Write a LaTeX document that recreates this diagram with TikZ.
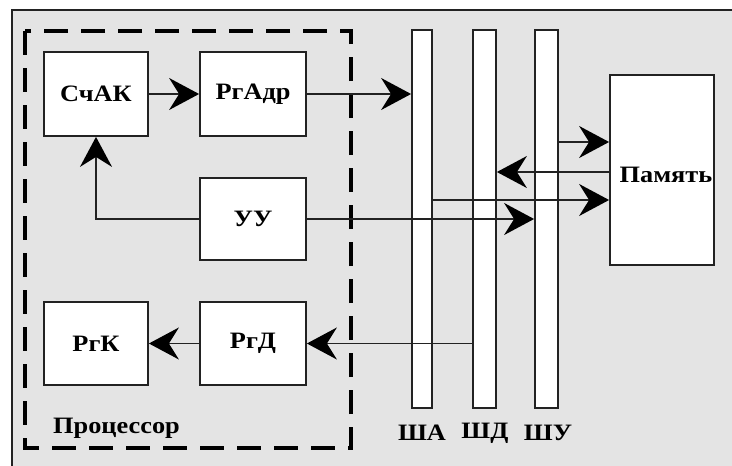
\documentclass[tikz,border=0pt]{standalone}
\usepackage{fontspec}
\setmainfont{Liberation Serif}[FakeStretch=1.12]
\usetikzlibrary{arrows.meta}
\definecolor{bgc}{HTML}{E4E4E4}
\definecolor{lnc}{HTML}{222222}
\tikzset{
  blk/.style={draw=lnc, line width=1.8pt, fill=white, rectangle, inner sep=0pt,
    font=\fontsize{23.5}{27}\selectfont\bfseries},
  bus/.style={draw=lnc, line width=1.8pt, fill=white, rectangle, inner sep=0pt,
    minimum height=378pt},
  lbl/.style={font=\fontsize{23.5}{27}\selectfont\bfseries, inner sep=0pt},
  arr/.style={draw=lnc, line width=1.6pt, -{Stealth[length=30pt,width=32pt,inset=10pt,color=black]}},
}
\begin{document}
\begin{tikzpicture}[x=1pt,y=-1pt]
\useasboundingbox (0,0) rectangle (732,466);
\fill[white] (0,0) rectangle (732,466);
\fill[bgc] (12,10) rectangle (732,466);
\draw[lnc, line width=2pt] (732,10) -- (12,10) -- (12,466);
% processor dashed box
\draw[black, line width=3.5pt, dash pattern=on 24pt off 13pt] (25,31) rectangle (351,448);
% blocks
\node[blk, minimum width=104pt, minimum height=84pt] (sc)  at (96,94)  {СчАК};
\node[blk, minimum width=106pt, minimum height=84pt] (rga) at (253,94) {РгАдр};
\node[blk, minimum width=106pt, minimum height=82pt] (uu)  at (253,219) {УУ};
\node[blk, minimum width=104pt, minimum height=83pt] (rgk) at (96,343.5) {РгК};
\node[blk, minimum width=106pt, minimum height=83pt] (rgd) at (253,343.5) {РгД};
\node[blk, minimum width=104pt, minimum height=190pt] (mem) at (662,170) {};
\node[lbl] (memt) at (666,175) {Память};
% buses
\node[bus, minimum width=20pt] (sha) at (422,219) {};
\node[bus, minimum width=23pt] (shd) at (484.5,219) {};
\node[bus, minimum width=23pt] (shu) at (546.5,219) {};
\node[lbl] (shal) at (422,433) {ША};
\node[lbl] (shdl) at (485,433) {ШД};
\node[lbl] (shul) at (548,433) {ШУ};
\node[lbl, anchor=west] (proc) at (53,428) {Процессор};
% levels
\coordinate (y1) at (0,142);
\coordinate (y2) at (0,172);
\coordinate (y3) at (0,200);
% connectors
\draw[arr] (sc.east) -- (rga.west);
\draw[arr] (rga.east) -- (rga.east -| sha.west);
\draw[arr] (uu.west) -| (sc.south);
\draw[arr] (uu.east) -- (uu.east -| shu.west);
\draw[arr] (shu.east |- y1) -- (mem.west |- y1);
\draw[arr] (mem.west |- y2) -- (shd.east |- y2);
\draw[arr] (sha.east |- y3) -- (mem.west |- y3);
\draw[arr] (shd.west |- rgd.east) -- (rgd.east);
\draw[arr] (rgd.west) -- (rgk.east);
\end{tikzpicture}
\end{document}
